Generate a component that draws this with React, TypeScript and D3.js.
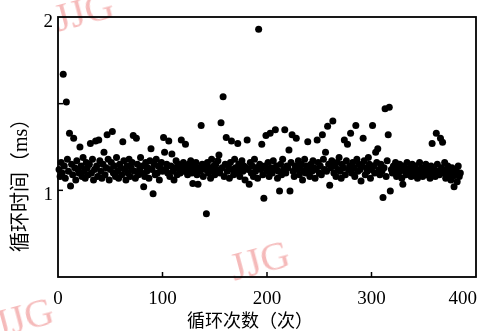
import React from "react";
import * as d3 from "d3";

const cycleValues: number[] = [
  1.12, 1.08, 1.16, 1.10, 1.67, 1.14, 1.07, 1.51, 1.18, 1.11, 1.33, 1.025, 1.15, 1.09, 1.30, 1.13, 1.06, 1.17, 1.12, 1.10,
  1.25, 1.14, 1.08, 1.19, 1.11, 1.07, 1.16, 1.13, 1.09, 1.15, 1.27, 1.10, 1.18, 1.06, 1.12, 1.285, 1.14, 1.08, 1.29, 1.17,
  1.11, 1.07, 1.15, 1.22, 1.09, 1.13, 1.32, 1.18, 1.06, 1.12, 1.16, 1.34, 1.10, 1.14, 1.08, 1.19, 1.11, 1.07, 1.15, 1.13,
  1.09, 1.28, 1.17, 1.12, 1.06, 1.14, 1.10, 1.18, 1.08, 1.13, 1.16, 1.316, 1.11, 1.07, 1.30, 1.15, 1.09, 1.12, 1.19, 1.10,
  1.14, 1.02, 1.08, 1.16, 1.11, 1.13, 1.07, 1.17, 1.24, 1.12, 0.98, 1.15, 1.09, 1.18, 1.10, 1.14, 1.06, 1.13, 1.16, 1.11,
  1.305, 1.22, 1.12, 1.15, 1.10, 1.285, 1.08, 1.14, 1.21, 1.11, 1.06, 1.13, 1.17, 1.09, 1.15, 1.12, 1.10, 1.29, 1.14, 1.16,
  1.11, 1.266, 1.13, 1.09, 1.15, 1.12, 1.17, 1.10, 1.04, 1.14, 1.12, 1.16, 1.09, 1.035, 1.13, 1.11, 1.374, 1.15, 1.08, 1.14,
  1.12, 0.865, 1.16, 1.10, 1.13, 1.07, 1.18, 1.11, 1.14, 1.09, 1.15, 1.12, 1.17, 1.204, 1.10, 1.39, 1.13, 1.54, 1.08, 1.15,
  1.305, 1.11, 1.14, 1.07, 1.16, 1.285, 1.12, 1.09, 1.18, 1.13, 1.10, 1.27, 1.15, 1.08, 1.12, 1.17, 1.11, 1.14, 1.06, 1.13,
  1.29, 1.12, 1.035, 1.16, 1.10, 1.14, 1.08, 1.18, 1.11, 1.13, 1.07, 1.93, 1.15, 1.12, 1.266, 1.09, 0.954, 1.14, 1.316, 1.11,
  1.16, 1.08, 1.33, 1.13, 1.10, 1.17, 1.12, 1.35, 1.14, 1.07, 1.11, 0.996, 1.15, 1.09, 1.18, 1.12, 1.35, 1.10, 1.14, 1.13,
  1.233, 0.996, 1.16, 1.32, 1.11, 1.08, 1.14, 1.30, 1.12, 1.17, 1.09, 1.13, 1.15, 1.06, 1.11, 1.18, 1.10, 1.14, 1.28, 1.12,
  1.08, 1.15, 1.11, 1.17, 1.13, 1.07, 1.12, 1.29, 1.16, 1.10, 1.14, 1.09, 1.32, 1.18, 1.12, 1.22, 1.11, 1.37, 1.15, 1.03,
  1.13, 1.17, 1.40, 1.10, 1.14, 1.08, 1.16, 1.12, 1.19, 1.11, 1.07, 1.15, 1.13, 1.29, 1.09, 1.17, 1.266, 1.12, 1.14, 1.33,
  1.10, 1.16, 1.13, 1.08, 1.374, 1.18, 1.11, 1.15, 1.12, 1.054, 1.14, 1.30, 1.17, 1.09, 1.13, 1.11, 1.19, 1.15, 1.07, 1.12,
  1.374, 1.14, 1.10, 1.22, 1.16, 1.24, 1.12, 1.09, 1.15, 1.11, 0.958, 1.13, 1.47, 1.08, 1.17, 1.32, 1.48, 0.996, 1.12, 1.10,
  1.14, 1.11, 1.16, 1.08, 1.13, 1.10, 1.15, 1.12, 1.07, 1.035, 1.14, 1.11, 1.09, 1.16, 1.12, 1.10, 1.13, 1.08, 1.15, 1.11,
  1.09, 1.14, 1.12, 1.07, 1.10, 1.16, 1.11, 1.13, 1.08, 1.12, 1.10, 1.15, 1.09, 1.13, 1.11, 1.07, 1.14, 1.27, 1.10, 1.12,
  1.08, 1.33, 1.15, 1.11, 1.09, 1.30, 1.13, 1.277, 1.10, 1.16, 1.07, 1.12, 1.14, 1.09, 1.11, 1.06, 1.13, 1.08, 1.02, 1.10,
  1.12, 1.05, 1.14, 1.08, 1.10,
];

const xTicks: number[] = [0, 100, 200, 300, 400];
const yTickLabels: number[] = [1, 2];
const yMinorTicks: number[] = [1, 1.5];
const xTitle = "循环次数（次）";
const yTitle = "循环时间（ms）";
const watermark = "JJG";

const W = 479;
const H = 331;
const L = 58, R = 476, T = 17, B = 277;

export default function App() {
  const x = d3.scaleLinear().domain([0, 400]).range([L, R]);
  const y = d3.scaleLinear().domain([0.5, 2]).range([B, T]);
  const points = cycleValues.map((v, i) => ({ n: i + 1, v }));
  const serif = "'Liberation Serif', 'Times New Roman', serif";
  const cjk = "'Liberation Serif', 'Noto Sans CJK SC', serif";
  const wmFill = "#f2a3a3";

  return (
    <svg width={W} height={H} style={{ position: "absolute", left: 0, top: 0, background: "#fff" }}>
      <rect x={0} y={0} width={W} height={H} fill="#fff" />
      {/* watermarks */}
      <g fontFamily={serif} fontSize={40} fill={wmFill} opacity={0.75}>
        <text transform="translate(58,32) rotate(-15)">{watermark}</text>
        <text transform="translate(234,281) rotate(-15)">{watermark}</text>
        <text transform="translate(-2,338) rotate(-15)">{watermark}</text>
      </g>
      {/* points */}
      <g fill="#000">
        {points.map((p) => (
          <circle key={p.n} cx={x(p.n)} cy={y(p.v)} r={3.5} />
        ))}
      </g>
      {/* frame */}
      <rect x={L} y={T} width={R - L} height={B - T} fill="none" stroke="#000" strokeWidth={1.8} />
      {/* ticks */}
      <g stroke="#000" strokeWidth={1.5}>
        {xTicks.filter((t) => t > 0 && t < 400).map((t) => (
          <line key={t} x1={x(t)} x2={x(t)} y1={B} y2={B - 5} />
        ))}
        {yMinorTicks.map((t) => (
          <line key={t} x1={L} x2={L + 5} y1={y(t)} y2={y(t)} />
        ))}
      </g>
      {/* tick labels */}
      <g fontFamily={serif} fontSize={19} fill="#000">
        {xTicks.map((t) => (
          <text key={t} x={t === 400 ? x(t) + 1 : x(t)} y={304} textAnchor={t === 400 ? "end" : "middle"}>
            {t}
          </text>
        ))}
        {yTickLabels.map((t) => (
          <text key={t} x={53} y={y(t) + 10} textAnchor="end">
            {t}
          </text>
        ))}
      </g>
      {/* axis titles */}
      <text x={187} y={327} textAnchor="start" fontFamily={cjk} fontSize={18} fill="#000">
        {xTitle}
      </text>
      <text transform="translate(27,252) rotate(-90)" textAnchor="start" fontFamily={cjk} fontSize={20} fill="#000">
        {yTitle}
      </text>
    </svg>
  );
}
